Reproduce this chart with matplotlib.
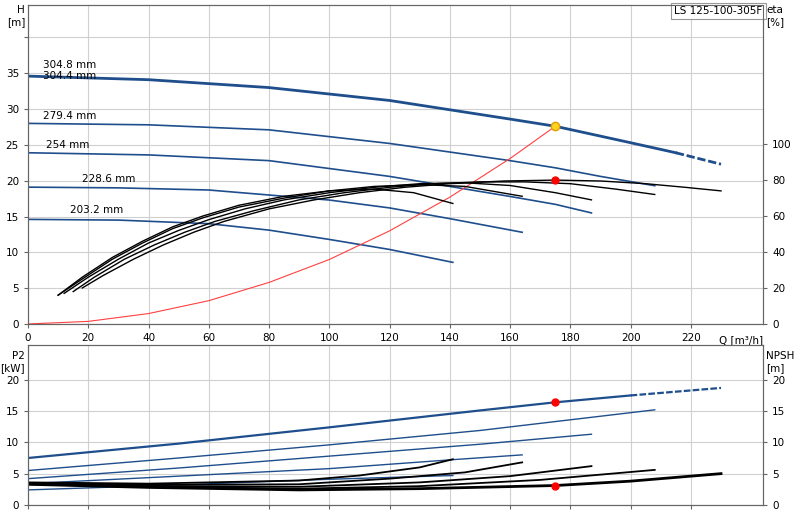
import matplotlib
matplotlib.use("Agg")
import matplotlib.pyplot as plt
import numpy as np

diam_labels = ["304.8 mm", "279.4 mm", "254 mm", "228.6 mm", "203.2 mm"]
# QH curves
qh_q = [[0, 40, 80, 120, 160, 175, 200, 215, 230],
        [0, 40, 80, 120, 160, 175, 190, 208],
        [0, 40, 80, 120, 160, 175, 187],
        [0, 30, 60, 100, 120, 140, 164],
        [0, 30, 60, 80, 100, 120, 141]]
qh_h = [[34.6, 34.1, 33.0, 31.2, 28.6, 27.6, 25.3, 23.9, 22.3],
        [28.0, 27.8, 27.1, 25.2, 22.8, 21.8, 20.6, 19.3],
        [23.9, 23.6, 22.8, 20.6, 17.8, 16.7, 15.5],
        [19.1, 19.0, 18.7, 17.3, 16.2, 14.7, 12.8],
        [14.6, 14.5, 14.0, 13.1, 11.8, 10.4, 8.6]]
# efficiency curves [%]
eta_q = [[18, 25, 35, 45, 55, 65, 80, 95, 110, 125, 140, 158, 175, 190, 205, 218, 230],
         [15, 22, 32, 42, 52, 62, 75, 90, 105, 120, 135, 150, 165, 180, 195, 208],
         [12, 20, 30, 40, 50, 60, 72, 85, 100, 115, 130, 145, 160, 175, 187],
         [10, 18, 28, 38, 48, 58, 70, 85, 100, 115, 130, 145, 164],
         [10, 18, 28, 38, 48, 58, 70, 85, 100, 115, 128, 141]]
eta_v = [[20, 27, 36, 44, 51, 57, 64, 69, 73, 76, 78, 79.5, 80, 79.5, 78, 76, 74],
         [18, 26, 36, 44, 51, 57, 63, 69, 73, 76, 78, 79, 79, 78, 75, 72],
         [17, 26, 36, 45, 52, 58, 64, 69, 73, 76, 78, 78.5, 77, 73, 69],
         [16, 25, 36, 45, 53, 59, 65, 70, 74, 76.5, 77.5, 76.5, 71],
         [16, 26, 37, 46, 54, 60, 66, 71, 74, 75, 73, 67]]
# system curve
sys_q = [0, 20, 40, 60, 80, 100, 120, 140, 160, 175]
sys_h = [0, 0.36, 1.45, 3.25, 5.8, 9.0, 13.0, 17.7, 23.1, 27.6]
duty_q, duty_h, duty_eta, duty_p2, duty_npsh = 175, 27.6, 80, 16.4, 3.1
# P2 curves
p2_q = [[0, 50, 100, 150, 175, 200, 230],
        [0, 50, 100, 150, 208],
        [0, 50, 100, 150, 187],
        [0, 50, 100, 140, 164],
        [0, 50, 100, 141]]
p2_v = [[7.5, 9.8, 12.4, 15.1, 16.4, 17.5, 18.7],
        [5.5, 7.5, 9.6, 11.9, 15.2],
        [4.2, 5.9, 7.8, 9.7, 11.3],
        [3.4, 4.6, 5.8, 7.2, 8.0],
        [2.4, 3.2, 4.1, 4.7]]
# NPSH curves
npsh_q = [[0, 40, 90, 130, 175, 200, 230],
          [0, 40, 90, 130, 170, 208],
          [0, 40, 90, 130, 160, 187],
          [0, 40, 90, 120, 145, 164],
          [0, 40, 90, 110, 130, 141]]
npsh_v = [[3.3, 2.8, 2.4, 2.6, 3.1, 3.8, 5.0],
          [3.3, 2.9, 2.6, 3.0, 4.0, 5.6],
          [3.4, 3.0, 2.9, 3.6, 4.6, 6.2],
          [3.5, 3.2, 3.3, 4.2, 5.2, 6.8],
          [3.6, 3.4, 3.9, 4.7, 6.0, 7.3]]

BLUE = "#1f4e8c"
fig = plt.figure(figsize=(8, 5.2), dpi=100)
ax = fig.add_axes([0.035, 0.377, 0.919, 0.613])
axe = ax.twinx()
ax2 = fig.add_axes([0.035, 0.029, 0.919, 0.308])
ax2r = ax2.twinx()

HMAX = 44.5
ax.set_xlim(0, 244); ax.set_ylim(0, HMAX)
axe.set_ylim(0, HMAX * 7.17 / 1.8)
for i in range(5):
    q, h = np.array(qh_q[i]), np.array(qh_h[i])
    lw = 2 if i == 0 else 1.2
    if i == 0:
        ax.plot(q[q <= 215], h[q <= 215], color=BLUE, lw=lw)
        ax.plot(q[q >= 215], h[q >= 215], color=BLUE, lw=lw, ls=(0, (3, 1)))
    else:
        ax.plot(q, h, color=BLUE, lw=lw)
    axe.plot(eta_q[i], eta_v[i], color="black", lw=1.0)
xs = [5, 5, 6, 18, 14]
ys = [35.5, 28.4, 24.3, 19.6, 15.2]
for lab, x, y in zip(diam_labels, xs, ys):
    ax.text(x, y, lab, fontsize=7.5, va="bottom")
ax.text(5, 34.6, "304.4 mm", fontsize=7.5, va="center")
ax.plot(sys_q, sys_h, color="#ff4040", lw=0.8)
ax.plot([duty_q], [duty_h], "o", color="#ffd21f", mec="#e0a000", ms=6, zorder=5)
axe.plot([duty_q], [duty_eta], "o", color="red", ms=5, zorder=5)

ax.set_xticks(range(0, 221, 20))
ax.set_yticks(range(0, 41, 5))
ax.set_yticklabels([str(v) if v <= 35 else "" for v in range(0, 41, 5)])
axe.set_yticks(range(0, 101, 20))
ax.grid(True, color="#d0d0d0", lw=0.8)
ax.text(-0.004, 1.0, "H\n[m]", transform=ax.transAxes, ha="right", va="top", fontsize=7.5)
axe.text(1.004, 1.0, "eta\n[%]", transform=ax.transAxes, ha="left", va="top", fontsize=7.5)
ax.text(1.0, -0.035, "Q [m³/h]", transform=ax.transAxes, ha="right", va="top", fontsize=7.5)
ax.text(0.999, 0.997, "LS 125-100-305F", transform=ax.transAxes, ha="right", va="top", fontsize=7.5,
        bbox=dict(boxstyle="square,pad=0.3", fc="white", ec="#999999", lw=0.8))

ax2.set_xlim(0, 244); ax2.set_ylim(0, 25.6); ax2r.set_ylim(0, 25.6)
for i in range(5):
    q, p = np.array(p2_q[i]), np.array(p2_v[i])
    lw = 1.6 if i == 0 else 1.0
    if i == 0:
        ax2.plot(q[q <= 215], p[q <= 215], color=BLUE, lw=lw)
        ax2.plot(q[q >= 200], p[q >= 200], color=BLUE, lw=lw, ls=(0, (3, 1)))
    else:
        ax2.plot(q, p, color=BLUE, lw=lw)
    nq, nv = np.array(npsh_q[i]), np.array(npsh_v[i])
    lw2 = 2 if i == 0 else 1.3
    ax2r.plot(nq, nv, color="black", lw=lw2)
ax2.plot([duty_q], [duty_p2], "o", color="red", ms=5, zorder=5)
ax2r.plot([duty_q], [duty_npsh], "o", color="red", ms=5, zorder=5)
ax2.set_xticks(range(0, 221, 20)); ax2.set_xticklabels([])
ax2.set_yticks(range(0, 21, 5)); ax2r.set_yticks(range(0, 21, 5))
ax2.grid(True, color="#d0d0d0", lw=0.8)
ax2.text(-0.004, 0.96, "P2\n[kW]", transform=ax2.transAxes, ha="right", va="top", fontsize=7.5)
ax2.text(1.004, 0.96, "NPSH\n[m]", transform=ax2.transAxes, ha="left", va="top", fontsize=7.5)

for a in (ax, axe, ax2, ax2r):
    a.tick_params(labelsize=7.5, length=3, color="#666666")
    for s in a.spines.values():
        s.set_color("#666666")
fig.savefig("out.png", dpi=100)
